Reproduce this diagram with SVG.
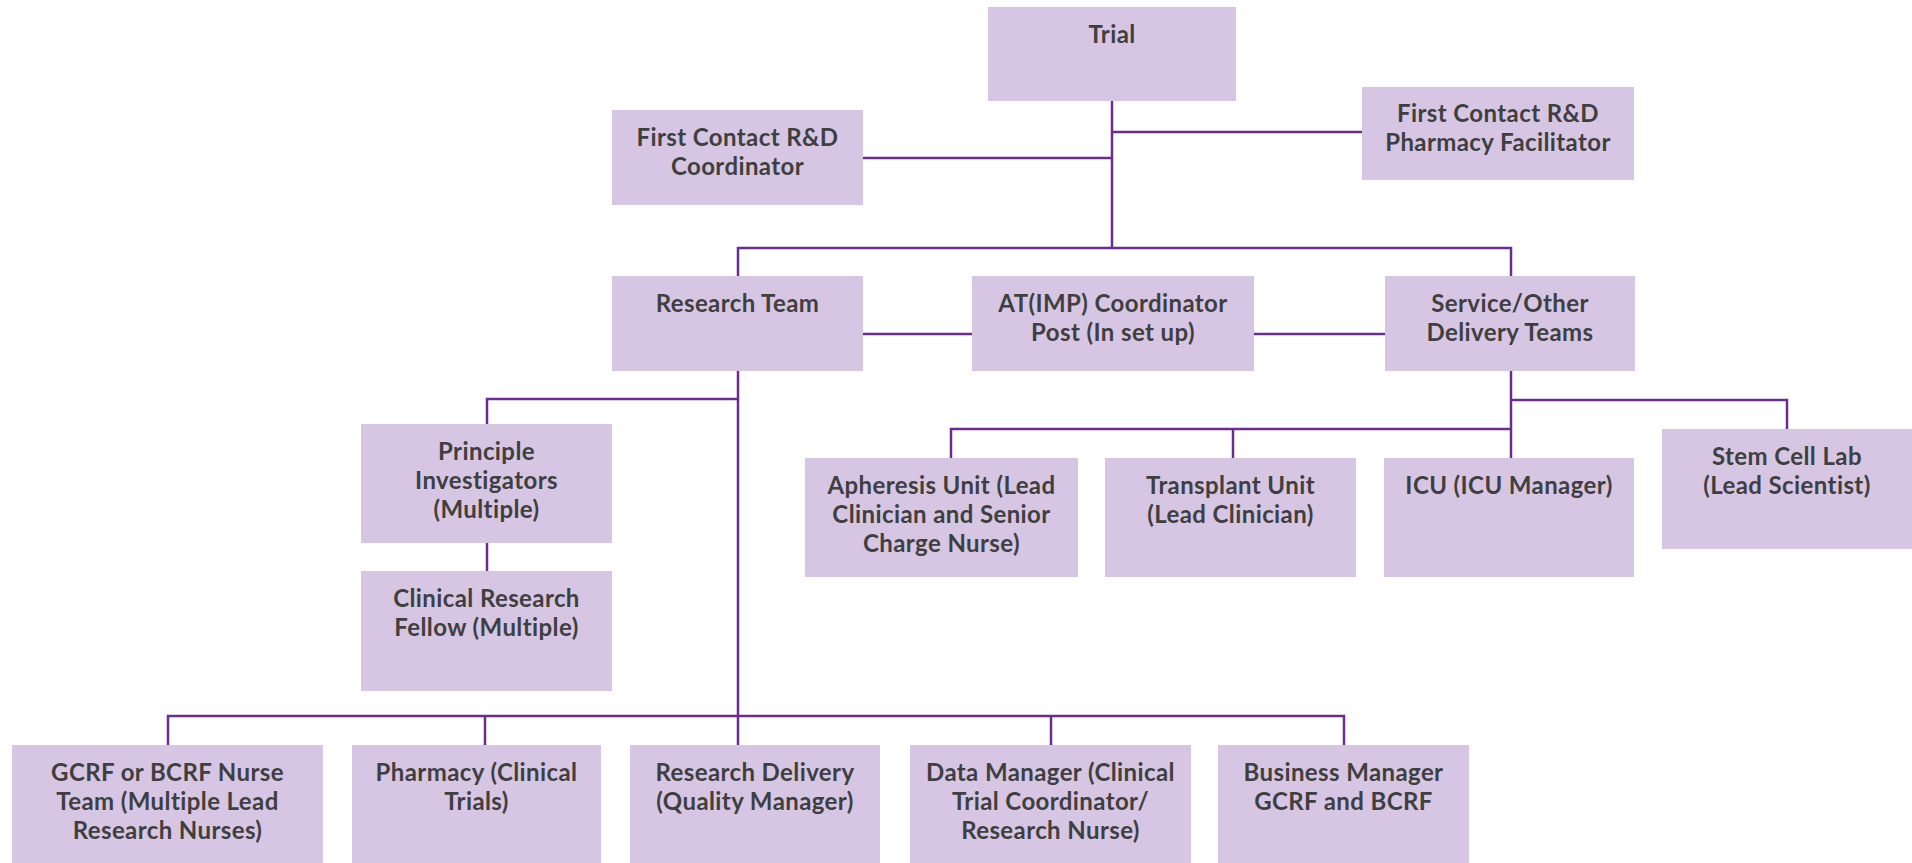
<svg xmlns="http://www.w3.org/2000/svg" width="1912" height="863" viewBox="0 0 1912 863">
<style>
.box{fill:#d6c6e3;}
.t{font-family:Lato,"Open Sans","Liberation Sans",sans-serif;font-weight:700;font-size:24px;letter-spacing:0.4px;fill:#3f3f3f;text-anchor:middle;}
.c{fill:none;stroke:#6b2c8f;stroke-width:2.5;}
</style>
<rect width="1912" height="863" fill="#ffffff"/>
<g id="connectors" class="c">
<path d="M1112 101 V248"/>
<path d="M1112 132 H1362"/>
<path d="M863 158 H1112"/>
<path d="M738 276 V248 H1511 V276"/>
<path d="M863 334 H972"/>
<path d="M1254 334 H1385"/>
<path d="M738 371 V745"/>
<path d="M487 424 V399 H738"/>
<path d="M487 543 V571"/>
<path d="M168 745 V716 H1344 V745"/>
<path d="M485 716 V745"/>
<path d="M1051 716 V745"/>
<path d="M1511 371 V458"/>
<path d="M951 458 V429 H1511"/>
<path d="M1233 429 V458"/>
<path d="M1511 400 H1787 V429"/>
</g>
<g id="trial"><rect class="box" x="988" y="7" width="248" height="94"/><text class="t" x="1112" y="43">Trial</text></g>
<g id="rd-coordinator"><rect class="box" x="612" y="110" width="251" height="95"/><text class="t" x="737.5" y="146">First Contact R&amp;D</text><text class="t" x="737.5" y="175">Coordinator</text></g>
<g id="rd-pharmacy"><rect class="box" x="1362" y="87" width="272" height="93"/><text class="t" x="1498" y="122">First Contact R&amp;D</text><text class="t" x="1498" y="151">Pharmacy Facilitator</text></g>
<g id="research-team"><rect class="box" x="612" y="276" width="251" height="95"/><text class="t" x="737.5" y="312">Research Team</text></g>
<g id="atimp"><rect class="box" x="972" y="276" width="282" height="95"/><text class="t" x="1113" y="312">AT(IMP) Coordinator</text><text class="t" x="1113" y="341">Post (In set up)</text></g>
<g id="service"><rect class="box" x="1385" y="276" width="250" height="95"/><text class="t" x="1510" y="312">Service/Other</text><text class="t" x="1510" y="341">Delivery Teams</text></g>
<g id="pi"><rect class="box" x="361" y="424" width="251" height="119"/><text class="t" x="486.5" y="460">Principle</text><text class="t" x="486.5" y="489">Investigators</text><text class="t" x="486.5" y="518">(Multiple)</text></g>
<g id="crf"><rect class="box" x="361" y="571" width="251" height="120"/><text class="t" x="486.5" y="607">Clinical Research</text><text class="t" x="486.5" y="636">Fellow (Multiple)</text></g>
<g id="apheresis"><rect class="box" x="805" y="458" width="273" height="119"/><text class="t" x="941.5" y="494">Apheresis Unit (Lead</text><text class="t" x="941.5" y="523">Clinician and Senior</text><text class="t" x="941.5" y="552">Charge Nurse)</text></g>
<g id="transplant"><rect class="box" x="1105" y="458" width="251" height="119"/><text class="t" x="1230.5" y="494">Transplant Unit</text><text class="t" x="1230.5" y="523">(Lead Clinician)</text></g>
<g id="icu"><rect class="box" x="1384" y="458" width="250" height="119"/><text class="t" x="1509" y="494">ICU (ICU Manager)</text></g>
<g id="stemcell"><rect class="box" x="1662" y="429" width="250" height="120"/><text class="t" x="1787" y="465">Stem Cell Lab</text><text class="t" x="1787" y="494">(Lead Scientist)</text></g>
<g id="gcrf"><rect class="box" x="12" y="745" width="311" height="118"/><text class="t" x="167.5" y="781">GCRF or BCRF Nurse</text><text class="t" x="167.5" y="810">Team (Multiple Lead</text><text class="t" x="167.5" y="839">Research Nurses)</text></g>
<g id="pharmacy"><rect class="box" x="352" y="745" width="249" height="118"/><text class="t" x="476.5" y="781">Pharmacy (Clinical</text><text class="t" x="476.5" y="810">Trials)</text></g>
<g id="research-delivery"><rect class="box" x="630" y="745" width="250" height="118"/><text class="t" x="755" y="781">Research Delivery</text><text class="t" x="755" y="810">(Quality Manager)</text></g>
<g id="data-manager"><rect class="box" x="910" y="745" width="281" height="118"/><text class="t" x="1050.5" y="781">Data Manager (Clinical</text><text class="t" x="1050.5" y="810">Trial Coordinator/</text><text class="t" x="1050.5" y="839">Research Nurse)</text></g>
<g id="business-manager"><rect class="box" x="1218" y="745" width="251" height="118"/><text class="t" x="1343.5" y="781">Business Manager</text><text class="t" x="1343.5" y="810">GCRF and BCRF</text></g>
</svg>
